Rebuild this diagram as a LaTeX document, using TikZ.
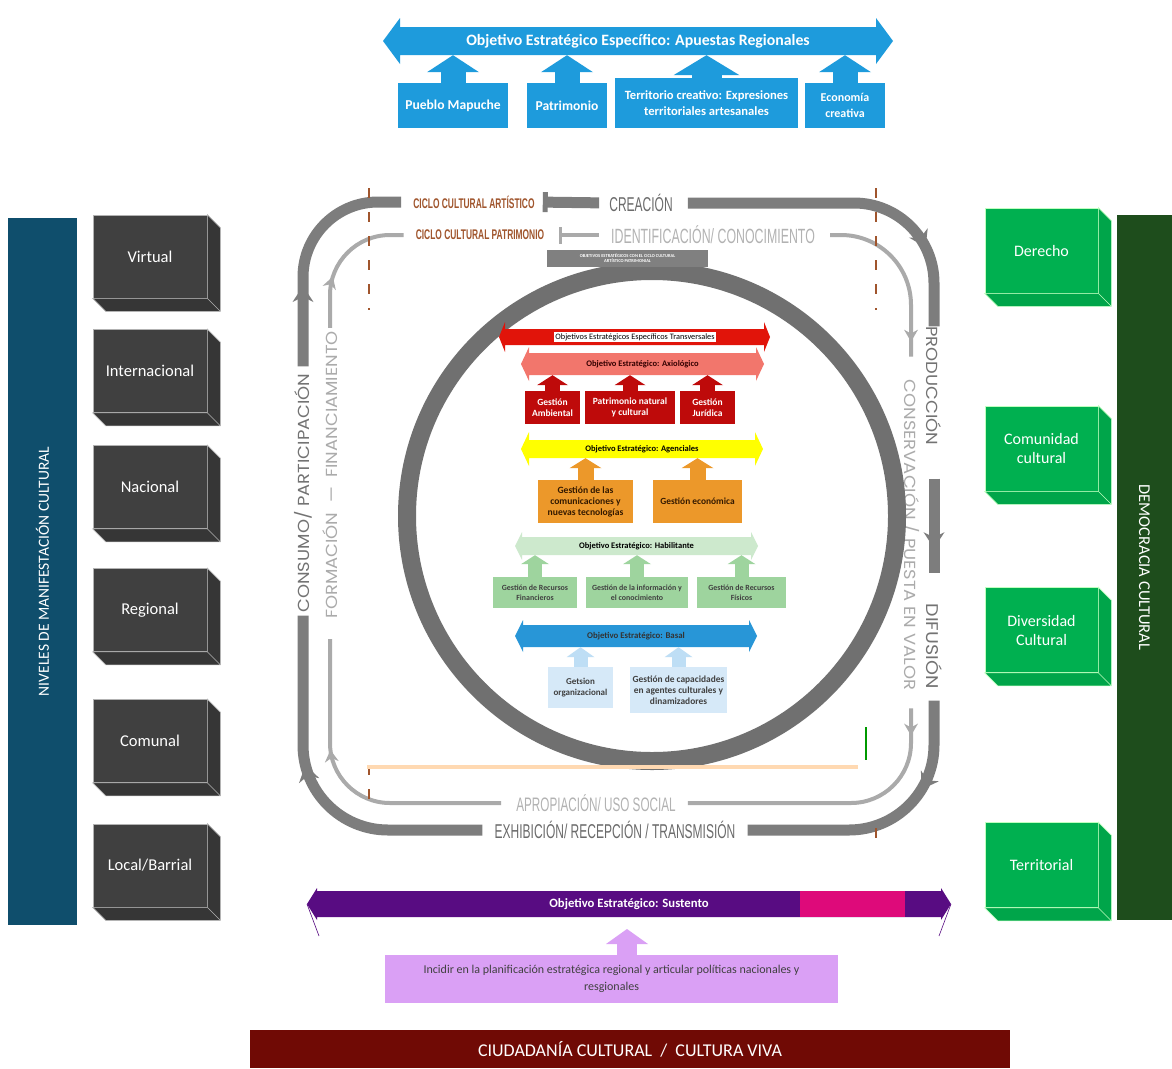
\documentclass[tikz,border=0pt]{standalone}
\usepackage{fontspec}
\setmainfont{Carlito}
\setsansfont{Carlito}
\newfontfamily\condfont[FakeStretch=0.6]{Liberation Sans}
\newfontfamily\gothfont[FakeStretch=1.12]{Poppins}
\usetikzlibrary{arrows.meta}
\usetikzlibrary{decorations.markings}
\usetikzlibrary{positioning}

\definecolor{blueTop}{RGB}{30,155,220}
\definecolor{barBlue}{RGB}{15,78,108}
\definecolor{barGreen}{RGB}{30,77,28}
\definecolor{boxGray}{RGB}{64,64,64}
\definecolor{sideGray}{RGB}{54,54,54}
\definecolor{boxGreen}{RGB}{0,176,80}
\definecolor{sideGreen}{RGB}{0,165,74}
\definecolor{loopDark}{RGB}{125,125,125}
\definecolor{loopLight}{RGB}{170,170,170}
\definecolor{cicloBrown}{RGB}{160,85,45}
\definecolor{ringGray}{RGB}{112,112,112}
\definecolor{transRed}{RGB}{225,20,10}
\definecolor{axiSalmon}{RGB}{242,118,108}
\definecolor{axiRed}{RGB}{190,10,10}
\definecolor{agenYellow}{RGB}{255,255,0}
\definecolor{agenOrange}{RGB}{236,152,42}
\definecolor{habLight}{RGB}{205,233,205}
\definecolor{habGreen}{RGB}{158,212,158}
\definecolor{basalBlue}{RGB}{40,150,215}
\definecolor{basalLight}{RGB}{214,233,248}
\definecolor{basalArrow}{RGB}{190,222,245}
\definecolor{sustPurple}{RGB}{88,12,130}
\definecolor{sustPink}{RGB}{222,10,122}
\definecolor{incLila}{RGB}{218,160,245}
\definecolor{ciuRed}{RGB}{112,10,5}

\newcommand{\DblArr}[7]{%
  \fill[#1] (#2,#4) -- (#2+#7,#4-#6) -- (#2+#7,#4-#5) -- (#3-#7,#4-#5) -- (#3-#7,#4-#6) -- (#3,#4) -- (#3-#7,#4+#6) -- (#3-#7,#4+#5) -- (#2+#7,#4+#5) -- (#2+#7,#4+#6) -- cycle;}

\begin{document}
\begin{tikzpicture}[x = 1pt, y = -1pt, font=\sffamily]
	\tikzstyle{levelStyle}=[fill = boxGray, draw = gray!60, line width = 0.6pt, minimum width = 114pt, minimum height = 83pt, text = white, align = center, font = \fontsize{16.5}{19}\selectfont]
	\tikzstyle{levelSide}=[fill = sideGray, draw = gray!60, line width = 0.6pt]
	\tikzstyle{rightsStyle}=[fill = boxGreen, draw = green!25, line width = 0.6pt, minimum width = 113pt, minimum height = 85pt, text = white, align = center, font = \fontsize{16}{19}\selectfont]
	\tikzstyle{rightsSide}=[fill = sideGreen, draw = green!25, line width = 0.6pt]
	\tikzstyle{apuestaStyle}=[fill = blueTop, text = white, align = center, inner sep = 0pt, font = \bfseries\fontsize{13.6}{15}\selectfont]
	\tikzstyle{objText}=[inner sep = 0pt, align = center, font = \bfseries\fontsize{8.5}{10}\selectfont]
	\tikzstyle{lineaStyle}=[inner sep = 0pt, align = center, font = \bfseries\fontsize{9.5}{11}\selectfont]
	\tikzstyle{topUp}=[draw = blueTop, line width = 25pt, -{Triangle[length = 17pt, width = 52pt, line width = 0pt]}]
	\tikzstyle{outerLine}=[draw = loopDark, line width = 11pt]
	\tikzstyle{innerLine}=[draw = loopLight, line width = 4pt]
	\tikzstyle{cicloText}=[text = cicloBrown, inner sep = 0pt, font = \condfont\bfseries\fontsize{14}{16}\selectfont]
	\tikzstyle{etapaDark}=[text = black!58, inner sep = 0pt, font = \condfont\fontsize{20}{22}\selectfont]
	\tikzstyle{etapaLight}=[text = black!30, inner sep = 0pt, font = \condfont\fontsize{19.5}{21}\selectfont]
	\tikzstyle{gothDark}=[text = black!55, inner sep = 0pt, font = \gothfont\fontsize{16}{18}\selectfont]
	\tikzstyle{gothLight}=[text = black!33, inner sep = 0pt, font = \gothfont\fontsize{16}{18}\selectfont]
	\tikzstyle{cicloMark}=[draw = cicloBrown, line width = 1.8pt, dash pattern = on 10pt off 14pt]
	\fill[white] (0,0) rectangle (1172,1068);
	\useasboundingbox (0,0) rectangle (1172,1068);

	\DblArr{blueTop}{383}{893}{41}{14}{23}{17}
	\node[objText, text = white, minimum width = 476pt, minimum height = 28pt, font = \bfseries\fontsize{15.8}{18}\selectfont] (apuestas) at (638,41) {Objetivo Estratégico Específico: Apuestas Regionales};
	\node[apuestaStyle, minimum width = 110pt, minimum height = 45pt] (mapuche) at (453,105.5) {Pueblo Mapuche};
	\node[apuestaStyle, minimum width = 80pt, minimum height = 45pt] (patrimonio) at (567,105.5) {Patrimonio};
	\node[apuestaStyle, minimum width = 183pt, minimum height = 50pt, font = \bfseries\fontsize{12.6}{16}\selectfont] (territorio) at (706.5,103) {Territorio creativo: Expresiones\\territoriales artesanales};
	\node[apuestaStyle, minimum width = 80pt, minimum height = 45pt, font = \bfseries\fontsize{12}{16}\selectfont] (economia) at (845,105.5) {Economía\\creativa};
	\draw[topUp] (mapuche.north) -- (mapuche.north |- apuestas.south);
	\draw[topUp] (patrimonio.north) -- (patrimonio.north |- apuestas.south);
	\draw[topUp, line width = 30pt, -{Triangle[length = 20pt, width = 66pt, line width = 0pt]}] (territorio.north) -- (territorio.north |- apuestas.south);
	\draw[topUp] (economia.north) -- (economia.north |- apuestas.south);

	\node[fill = barBlue, rotate = 90, minimum width = 707pt, minimum height = 69pt, text = white, font = \fontsize{15.5}{18}\selectfont] (niveles) at (42.5,571.5) {NIVELES DE MANIFESTACIÓN CULTURAL};
	\node[levelStyle] (virtual) at (150,256.5) {Virtual};
	\node[levelStyle] (internacional) at (150,371) {Internacional};
	\node[levelStyle] (nacional) at (150,487) {Nacional};
	\node[levelStyle] (regional) at (150,610) {Regional};
	\node[levelStyle] (comunal) at (150,741) {Comunal};
	\node[levelStyle] (local) at (150,865.5) {Local/Barrial};
	\foreach \b in {virtual, internacional, nacional, regional, comunal, local}
		\filldraw[levelSide] (\b.north east) -- ++(13,13) -- ([shift = {(13,13)}]\b.south east) -- ([shift = {(13,13)}]\b.south west) -- (\b.south west) -- (\b.south east) -- cycle (\b.south east) -- ++(13,13);

	\node[fill = barGreen, rotate = -90, minimum width = 705pt, minimum height = 55pt, text = white, font = \fontsize{16.5}{19}\selectfont] (democracia) at (1144.5,567.5) {DEMOCRACIA CULTURAL};
	\node[rightsStyle] (derecho) at (1041.5,250.5) {Derecho};
	\node[rightsStyle] (comunidad) at (1041.5,448.5) {Comunidad\\cultural};
	\node[rightsStyle] (diversidad) at (1041.5,630) {Diversidad\\Cultural};
	\node[rightsStyle] (territorial) at (1041.5,865) {Territorial};
	\foreach \b in {derecho, comunidad, diversidad, territorial}
		\filldraw[rightsSide] (\b.north east) -- ++(13,13) -- ([shift = {(13,13)}]\b.south east) -- ([shift = {(13,13)}]\b.south west) -- (\b.south west) -- (\b.south east) -- cycle (\b.south east) -- ++(13,13);

	\node[cicloText] (cicloArt) at (474,202) {CICLO CULTURAL ARTÍSTICO};
	\node[cicloText] (cicloPat) at (480,235) {CICLO CULTURAL PATRIMONIO};
	\node[etapaDark] (creacion) at (641,203) {CREACIÓN};
	\node[etapaLight, font = \condfont\fontsize{20.6}{22}\selectfont] (identificacion) at (713,235) {IDENTIFICACIÓN/ CONOCIMIENTO};
	\node[etapaDark] (exhibicion) at (615,830) {EXHIBICIÓN/ RECEPCIÓN / TRANSMISIÓN};
	\node[etapaLight] (apropiacion) at (596,803) {APROPIACIÓN/ USO SOCIAL};
	\node[gothDark, rotate = -90] (produccion) at (934,386) {PRODUCCIÓN};
	\node[gothDark, rotate = -90, font = \gothfont\fontsize{17}{18}\selectfont] (difusion) at (934,646) {DIFUSIÓN};
	\node[gothLight, rotate = -90] (conservacion) at (911,535) {CONSERVACIÓN / PUESTA EN VALOR};
	\node[gothDark, rotate = 90] (consumo) at (303,493) {CONSUMO/ PARTICIPACIÓN};
	\node[gothLight, rotate = 90] (formacion) at (330,475) {FORMACIÓN \ — \ FINANCIAMIENTO};

	\draw[outerLine, {Bar[width = 20pt, line width = 5pt]}-, shorten <= 8pt, shorten >= 10pt] (cicloArt.east) -- (creacion.west);
	\draw[outerLine, rounded corners = 80pt, shorten <= 15pt, postaction = {decorate}, decoration = {markings, mark = at position 0.77 with {\arrow{Stealth[length = 16pt, width = 21pt, line width = 0pt]}}}] (creacion.east) -| (produccion.west);
	\draw[outerLine, shorten <= 33pt, shorten >= 30pt, postaction = {decorate}, decoration = {markings, mark = at position 0.65 with {\arrow{Stealth[length = 16pt, width = 21pt, line width = 0pt]}}}] (produccion.east) -- (difusion.west);
	\draw[outerLine, rounded corners = 85pt, shorten <= 12pt, shorten >= 12pt, postaction = {decorate}, decoration = {markings, mark = at position 0.34 with {\arrow{Stealth[length = 16pt, width = 21pt, line width = 0pt]}}}] (difusion.east) |- (exhibicion.east);
	\draw[outerLine, rounded corners = 85pt, shorten <= 12pt, shorten >= 3pt, postaction = {decorate}, decoration = {markings, mark = at position 0.59 with {\arrow{Stealth[length = 16pt, width = 21pt, line width = 0pt]}}}] (exhibicion.west) -| (consumo.west);
	\draw[outerLine, rounded corners = 75pt, shorten <= 7pt, shorten >= 12pt, postaction = {decorate}, decoration = {markings, mark = at position 0.35 with {\arrow{Stealth[length = 16pt, width = 21pt, line width = 0pt]}}}] (consumo.east) |- (cicloArt.west);

	\draw[innerLine, {Bar[width = 17pt, line width = 2.5pt]}-, shorten <= 15pt, shorten >= 12pt] (cicloPat.east) -- (identificacion.west);
	\draw[innerLine, rounded corners = 70pt, shorten <= 15pt, shorten >= 23pt, postaction = {decorate}, decoration = {markings, mark = at position 0.82 with {\arrow{Stealth[length = 12pt, width = 14pt, line width = 0pt]}}}] (identificacion.east) -| (conservacion.west);
	\draw[innerLine, rounded corners = 60pt, shorten <= 18pt, shorten >= 12pt, postaction = {decorate}, decoration = {markings, mark = at position 0.14 with {\arrow{Stealth[length = 12pt, width = 14pt, line width = 0pt]}}}] (conservacion.east) |- (apropiacion.east);
	\draw[innerLine, rounded corners = 60pt, shorten <= 15pt, shorten >= 20pt, postaction = {decorate}, decoration = {markings, mark = at position 0.62 with {\arrow{Stealth[length = 12pt, width = 14pt, line width = 0pt]}}}] (apropiacion.west) -| (formacion.west);
	\draw[innerLine, rounded corners = 60pt, shorten <= 3pt, shorten >= 12pt, postaction = {decorate}, decoration = {markings, mark = at position 0.35 with {\arrow{Stealth[length = 12pt, width = 14pt, line width = 0pt]}}}] (formacion.east) |- (cicloPat.west);

	\draw[cicloMark] (369,188) -- (369,310);
	\draw[cicloMark] (876,188) -- (876,310);
	\draw[cicloMark] (369,765) -- (369,800);
	\draw[cicloMark] (876,828) -- (876,842);

	\draw[draw = ringGray, line width = 18pt] (652,516) circle (245pt);
	\node[fill = black!50, text = white, minimum width = 161pt, minimum height = 17pt, inner sep = 0pt, align = center, font = \bfseries\fontsize{4.5}{5}\selectfont] (cicloBox) at (627.5,258) {OBJETIVOS ESTRATÉGICOS CON EL CICLO CULTURAL\\ARTÍSTICO PATRIMONIAL};
	\draw[draw = orange!30, line width = 3.5pt] (367,767) -- (858,767);
	\draw[draw = green!60!black, line width = 2.5pt] (866,727) -- (866,760);

	\DblArr{transRed}{499}{770}{337}{8}{15}{6}
	\node[objText, fill = white, inner sep = 1pt, font = \fontsize{8.3}{9}\selectfont] (transversales) at (635,337) {Objetivos Estratégicos Específicos Transversales};
	\DblArr{axiSalmon}{521}{764}{364}{11}{17}{8}
	\node[objText, text = black!80!red, minimum width = 227pt, minimum height = 22pt] (axiologico) at (642.5,364) {Objetivo Estratégico: Axiológico};
	\node[lineaStyle, fill = axiRed, text = white, minimum width = 55pt, minimum height = 33pt] (ambiental) at (552.5,407.5) {Gestión\\Ambiental};
	\node[lineaStyle, fill = axiRed, text = white, minimum width = 90pt, minimum height = 33pt] (natural) at (630,407.5) {Patrimonio natural\\y cultural};
	\node[lineaStyle, fill = axiRed, text = white, minimum width = 55pt, minimum height = 33pt] (juridica) at (707.5,407.5) {Gestión\\Jurídica};
	\draw[draw = axiRed, line width = 15pt, -{Triangle[length = 10pt, width = 31pt, line width = 0pt]}] (ambiental.north) -- (ambiental.north |- axiologico.south);
	\draw[draw = axiRed, line width = 15pt, -{Triangle[length = 10pt, width = 31pt, line width = 0pt]}] (natural.north) -- (natural.north |- axiologico.south);
	\draw[draw = axiRed, line width = 15pt, -{Triangle[length = 10pt, width = 31pt, line width = 0pt]}] (juridica.north) -- (juridica.north |- axiologico.south);

	\DblArr{agenYellow}{521}{763}{449}{9}{17}{8}
	\node[objText, minimum width = 226pt, minimum height = 18pt] (agenciales) at (642,449) {Objetivo Estratégico: Agenciales};
	\node[lineaStyle, fill = agenOrange, text = black!80!orange, minimum width = 95pt, minimum height = 43pt, font = \bfseries\fontsize{9.6}{11}\selectfont] (comunicaciones) at (585.5,501.5) {Gestión de las\\comunicaciones y\\nuevas tecnologías};
	\node[lineaStyle, fill = agenOrange, text = black!80!orange, minimum width = 89pt, minimum height = 43pt, font = \bfseries\fontsize{9.4}{11}\selectfont] (economica) at (697.5,501.5) {Gestión económica};
	\draw[draw = agenOrange, line width = 16pt, -{Triangle[length = 10pt, width = 32pt, line width = 0pt]}] (comunicaciones.north) -- (comunicaciones.north |- agenciales.south);
	\draw[draw = agenOrange, line width = 16pt, -{Triangle[length = 10pt, width = 32pt, line width = 0pt]}] (economica.north) -- (economica.north |- agenciales.south);

	\DblArr{habLight}{515}{758}{546}{9}{14}{7}
	\node[objText, minimum width = 229pt, minimum height = 18pt] (habilitante) at (636.5,546) {Objetivo Estratégico: Habilitante};
	\node[lineaStyle, fill = habGreen, text = black!75, minimum width = 84pt, minimum height = 31pt, font = \bfseries\fontsize{7.9}{10}\selectfont] (financieros) at (535,592.5) {Gestión de Recursos\\Financieros};
	\node[lineaStyle, fill = habGreen, text = black!75, minimum width = 102pt, minimum height = 31pt, font = \bfseries\fontsize{7.9}{10}\selectfont] (informacion) at (637,592.5) {Gestión de la información y\\el conocimiento};
	\node[lineaStyle, fill = habGreen, text = black!75, minimum width = 89pt, minimum height = 31pt, font = \bfseries\fontsize{7.9}{10}\selectfont] (fisicos) at (741.5,592.5) {Gestión de Recursos\\Físicos};
	\draw[draw = habGreen, line width = 14pt, -{Triangle[length = 9pt, width = 28pt, line width = 0pt]}] (financieros.north) -- (financieros.north |- habilitante.south);
	\draw[draw = habGreen, line width = 14pt, -{Triangle[length = 9pt, width = 28pt, line width = 0pt]}] (informacion.north) -- (informacion.north |- habilitante.south);
	\draw[draw = habGreen, line width = 14pt, -{Triangle[length = 9pt, width = 28pt, line width = 0pt]}] (fisicos.north) -- (fisicos.north |- habilitante.south);

	\DblArr{basalBlue}{515}{757}{636}{11}{16}{8}
	\node[objText, text = black!80, minimum width = 226pt, minimum height = 22pt, font = \bfseries\fontsize{8.8}{10}\selectfont] (basal) at (636,636) {Objetivo Estratégico: Basal};
	\node[lineaStyle, fill = basalLight, text = black!75, minimum width = 65pt, minimum height = 41pt, font = \bfseries\fontsize{9}{11}\selectfont] (organizacional) at (580.5,687.5) {Getsion\\organizacional};
	\node[lineaStyle, fill = basalLight, text = black!75, minimum width = 97pt, minimum height = 46pt, font = \bfseries\fontsize{9.4}{11}\selectfont] (capacidades) at (678.5,690) {Gestión de capacidades\\en agentes culturales y\\dinamizadores};
	\draw[draw = basalArrow, line width = 14pt, -{Triangle[length = 10pt, width = 28pt, line width = 0pt]}] (organizacional.north) -- (organizacional.north |- basal.south);
	\draw[draw = basalArrow, line width = 14pt, -{Triangle[length = 10pt, width = 28pt, line width = 0pt]}] (capacidades.north) -- (capacidades.north |- basal.south);

	\DblArr{sustPurple}{307}{951}{904}{13}{16}{10}
	\fill[sustPink] (800,891) rectangle (905,917);
	\draw[draw = sustPurple, line width = 0.6pt] (307,904) -- (319,936);
	\draw[draw = sustPurple, line width = 0.6pt] (951,904) -- (939,936);
	\node[objText, text = white, minimum width = 624pt, minimum height = 26pt, font = \bfseries\fontsize{12.7}{14}\selectfont] (sustento) at (629,904) {Objetivo Estratégico: Sustento};
	\node[fill = incLila, text = black!75, minimum width = 453pt, minimum height = 48pt, inner sep = 0pt, align = center, font = \fontsize{12}{17}\selectfont] (incidir) at (611.5,979) {Incidir en la planificación estratégica regional y articular políticas nacionales y\\resgionales};
	\coordinate (incidirTip) at (627,929);
	\draw[draw = incLila, line width = 20pt, -{Triangle[length = 15pt, width = 42pt, line width = 0pt]}] (incidir.north -| incidirTip) -- (incidirTip);
	\node[fill = ciuRed, text = white, minimum width = 760pt, minimum height = 38pt, inner sep = 0pt, font = \fontsize{18}{20}\selectfont] (ciudadania) at (630,1049) {CIUDADANÍA CULTURAL \ / \ CULTURA VIVA};
\end{tikzpicture}
\end{document}
